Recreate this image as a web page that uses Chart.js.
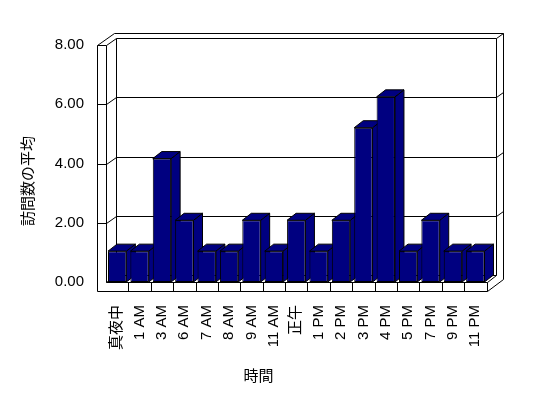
<!DOCTYPE html>
<html><head><meta charset="utf-8">
<script src="https://cdn.jsdelivr.net/npm/chart.js@4.4.0/dist/chart.umd.min.js"></script>
<style>html,body{margin:0;padding:0;background:#fff;overflow:hidden}</style>
</head><body>
<canvas id="c" width="548" height="398" style="width:548px;height:398px;display:block"></canvas>
<script>
const categories = ['真夜中','1 AM','3 AM','6 AM','7 AM','8 AM','9 AM','11 AM','正午','1 PM','2 PM','3 PM','4 PM','5 PM','7 PM','9 PM','11 PM'];
const avgVisits = [1, 1, 4, 2, 1, 1, 2, 1, 2, 1, 2, 5, 6, 1, 2, 1, 1];
const yTickValues = [0, 2, 4, 6, 8];
const yTitle = '訪問数の平均';
const xTitle = '時間';

const FONT = "'Liberation Sans', 'Noto Sans CJK JP', sans-serif";
const CJK = "'Noto Sans CJK JP', sans-serif";
const BAR_COLOR = '#000080';
const D1 = {x: 9.5, y: -7};
const D2 = {x: 16.5, y: -12};
const WALL = 9;
const BAR_D = {x: 9, y: -7};

const s = v => Math.round(v) + 0.5;

const threeD = {
  id: 'threeD',
  beforeDatasetsDraw(chart) {
    const {ctx, chartArea: a, scales} = chart;
    const y = scales.y, x = scales.x;
    const L = a.left, R = a.right, B = a.bottom, T = a.top;
    const L0 = L - WALL, FB = B + WALL;
    ctx.save();
    ctx.strokeStyle = '#000';
    ctx.lineWidth = 1;
    const line = (pts) => {
      ctx.beginPath();
      pts.forEach((p, i) => i ? ctx.lineTo(s(p[0]), s(p[1])) : ctx.moveTo(s(p[0]), s(p[1])));
      ctx.stroke();
    };
    line([[L, B], [L, T], [L0, T], [L0, FB], [R, FB], [R, B], [L, B]]);
    const step = (x.getPixelForValue(1) - x.getPixelForValue(0));
    for (let i = 1; i < categories.length; i++) {
      const xp = x.getPixelForValue(i) - step / 2;
      line([[xp, B], [xp, FB]]);
    }
    line([[L0, T], [L0 + D2.x, T + D2.y], [R + D2.x, T + D2.y], [R + D1.x, T + D1.y]]);
    line([[L, T], [L + D1.x, T + D1.y]]);
    line([[L + D1.x, T + D1.y], [R + D1.x, T + D1.y], [R + D1.x, B + D1.y], [L + D1.x, B + D1.y], [L + D1.x, T + D1.y]]);
    line([[R + D2.x, T + D2.y], [R + D2.x, FB + D2.y], [R, FB]]);
    line([[R, B], [R + D1.x, B + D1.y]]);
    line([[L, B], [L + D1.x, B + D1.y]]);
    y.ticks.forEach(t => {
      if (t.value <= y.min || t.value >= y.max) return;
      const yp = y.getPixelForValue(t.value);
      line([[L0, yp], [L, yp], [L + D1.x, yp + D1.y], [R + D1.x, yp + D1.y], [R + D2.x, yp + D2.y]]);
    });
    ctx.restore();
  },
  beforeDatasetDraw(chart, args) {
    const {ctx} = chart;
    const meta = args.meta;
    ctx.save();
    ctx.strokeStyle = '#000';
    ctx.lineWidth = 1;
    ctx.fillStyle = BAR_COLOR;
    meta.data.forEach(el => {
      const {x, y, base, width} = el;
      const l = x - width / 2, r = x + width / 2;
      ctx.beginPath();
      ctx.moveTo(r, y); ctx.lineTo(r + BAR_D.x, y + BAR_D.y);
      ctx.lineTo(r + BAR_D.x, base + BAR_D.y); ctx.lineTo(r, base); ctx.closePath();
      ctx.fill(); ctx.stroke();
      ctx.beginPath();
      ctx.moveTo(l, y); ctx.lineTo(l + BAR_D.x, y + BAR_D.y);
      ctx.lineTo(r + BAR_D.x, y + BAR_D.y); ctx.lineTo(r, y); ctx.closePath();
      ctx.fill(); ctx.stroke();
      el.draw(ctx, chart.chartArea);
    });
    ctx.restore();
    return false;
  },
  afterDraw(chart) {
    const {ctx} = chart;
    ctx.save();
    ctx.fillStyle = '#000';
    ctx.font = '15px ' + CJK;
    ctx.textAlign = 'center';
    ctx.textBaseline = 'middle';
    ctx.fillText(xTitle, 258.5, 375);
    ctx.translate(27.5, 181);
    ctx.rotate(-Math.PI / 2);
    ctx.fillText(yTitle, 0, 0);
    ctx.restore();
  }
};

Chart.defaults.font.family = FONT;
Chart.defaults.color = '#000';

new Chart(document.getElementById('c'), {
  type: 'bar',
  data: {
    labels: categories,
    datasets: [{
      label: yTitle,
      data: avgVisits,
      yAxisID: 'yb',
      backgroundColor: BAR_COLOR,
      borderColor: '#000',
      borderWidth: 1,
      borderSkipped: false,
      categoryPercentage: 1,
      barPercentage: 0.82
    }]
  },
  options: {
    responsive: false,
    animation: false,
    devicePixelRatio: 1,
    layout: {padding: {top: 45, right: 61.5, bottom: 0, left: 0}},
    plugins: {legend: {display: false}, tooltip: {enabled: false}, title: {display: false}},
    scales: {
      x: {
        grid: {display: false, drawTicks: false},
        border: {display: false},
        ticks: {autoSkip: false, minRotation: 90, maxRotation: 90, padding: 23, font: {size: 15}},
        afterFit: sc => { sc.height = 116; }
      },
      y: {
        min: 0, max: 8,
        afterBuildTicks: sc => { sc.ticks = yTickValues.map(v => ({value: v})); },
        grid: {display: false, drawTicks: false},
        border: {display: false},
        ticks: {padding: 22, font: {size: 15}, callback: v => v.toFixed(2)},
        afterFit: sc => { sc.width = 106; }
      },
      yb: {
        display: false,
        min: 0, max: 7.68
      }
    }
  },
  plugins: [threeD]
});
</script>
</body></html>
